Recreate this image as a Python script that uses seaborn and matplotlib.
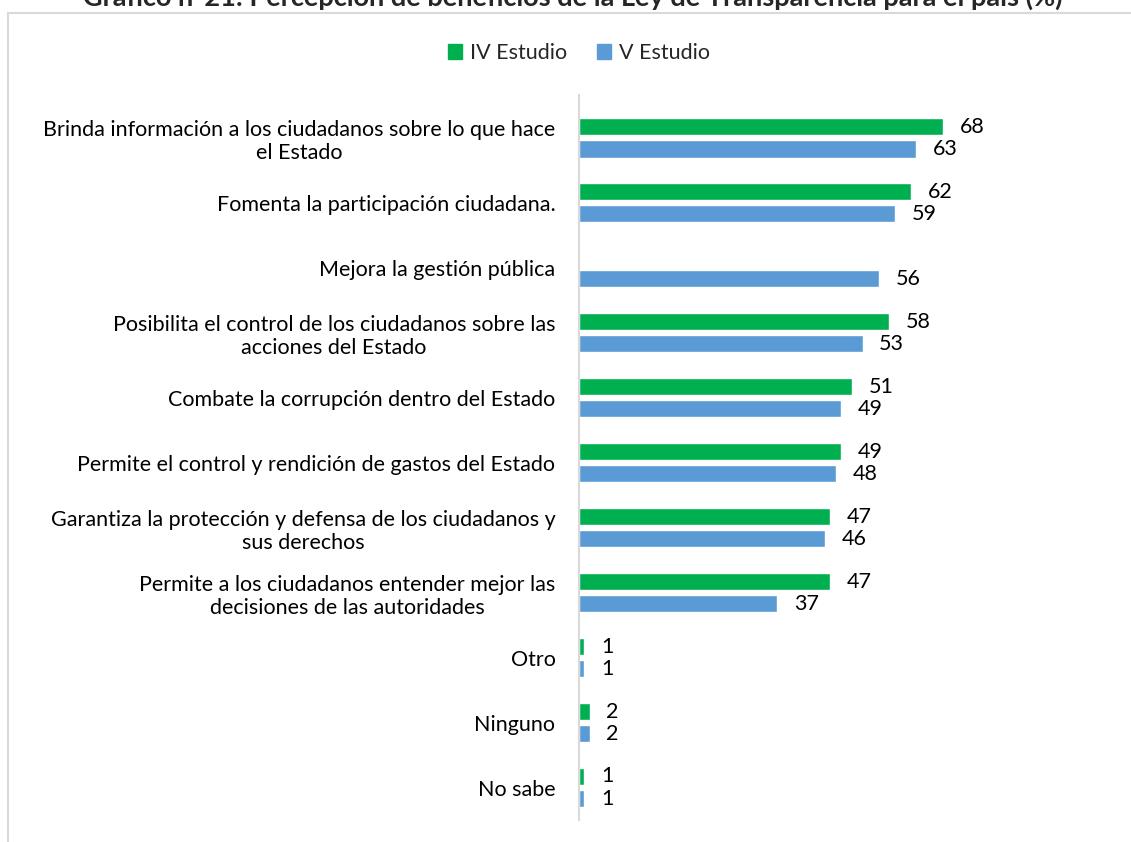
import numpy as np
import pandas as pd
import matplotlib
matplotlib.use("Agg")
import matplotlib.pyplot as plt
import matplotlib.patches as mpatches
import seaborn as sns

categories = [
    "Brinda información a los ciudadanos sobre lo que hace\nel Estado",
    "Fomenta la participación ciudadana.",
    "Mejora la gestión pública",
    "Posibilita el control de los ciudadanos sobre las\nacciones del Estado",
    "Combate la corrupción dentro del Estado",
    "Permite el control y rendición de gastos del Estado",
    "Garantiza la protección y defensa de los ciudadanos y\nsus derechos",
    "Permite a los ciudadanos entender mejor las\ndecisiones de las autoridades",
    "Otro",
    "Ninguno",
    "No sabe",
]
iv_estudio = [68, 62, np.nan, 58, 51, 49, 47, 47, 1, 2, 1]
v_estudio = [63, 59, 56, 53, 49, 48, 46, 37, 1, 2, 1]
series_names = ["IV Estudio", "V Estudio"]
colors = ["#00B050", "#5B9BD5"]
title = "Gráfico n°21: Percepción de beneficios de la Ley de Transparencia para el país (%)"

df = pd.DataFrame({
    "cat": categories * 2,
    "val": iv_estudio + v_estudio,
    "serie": [series_names[0]] * len(categories) + [series_names[1]] * len(categories),
})
df = df.dropna()

sns.set_style("white")
plt.rcParams["font.family"] = ["Lato", "DejaVu Sans"]

W, H = 1131, 842
fig = plt.figure(figsize=(W / 100, H / 100), dpi=100)

# outer frame
frame = mpatches.Rectangle((8 / W, -0.05), 1.2, 1 - 13 / H + 0.05, transform=fig.transFigure,
                           fill=False, edgecolor="#D9D9D9", linewidth=1.5, zorder=0)
fig.patches.append(frame)

ax = fig.add_axes([579 / W, 1 - 820 / H, (1100 - 579) / W, (820 - 95) / H])
sns.barplot(data=df, y="cat", x="val", hue="serie", order=categories, hue_order=series_names,
            palette=colors, orient="h", width=0.68, gap=0.22, ax=ax, legend=False,
            errorbar=None, saturation=1)

for cont in ax.containers:
    ax.bar_label(cont, fmt="%.0f", padding=12, fontsize=15.5, color="#000000")

ax.set_xlim(0, (1100 - 580) / 5.34)
ax.set_ylim(10.5, -0.66)
ax.set_xlabel("")
ax.set_ylabel("")
ax.set_xticks([])
for s in ["top", "right", "bottom"]:
    ax.spines[s].set_visible(False)
ax.spines["left"].set_color("#D9D9D9")
ax.spines["left"].set_linewidth(1.5)
ax.tick_params(axis="y", length=0, pad=17)
for lab in ax.get_yticklabels():
    lab.set_fontsize(15.5)
    lab.set_multialignment("center")
    lab.set_color("#000000")

handles = [mpatches.Patch(color=c, label=n) for c, n in zip(colors, series_names)]
fig.legend(handles=handles, loc="center", bbox_to_anchor=(579 / W, 1 - 53 / H), ncol=2,
           frameon=False, fontsize=15.5, handlelength=0.65, handleheight=0.65,
           handletextpad=0.37, columnspacing=1.35)

fig.text(573 / W, 1 - 6 / H, title, ha="center", va="baseline", fontsize=19.5, fontweight="bold")

fig.savefig("out.png", dpi=100)
